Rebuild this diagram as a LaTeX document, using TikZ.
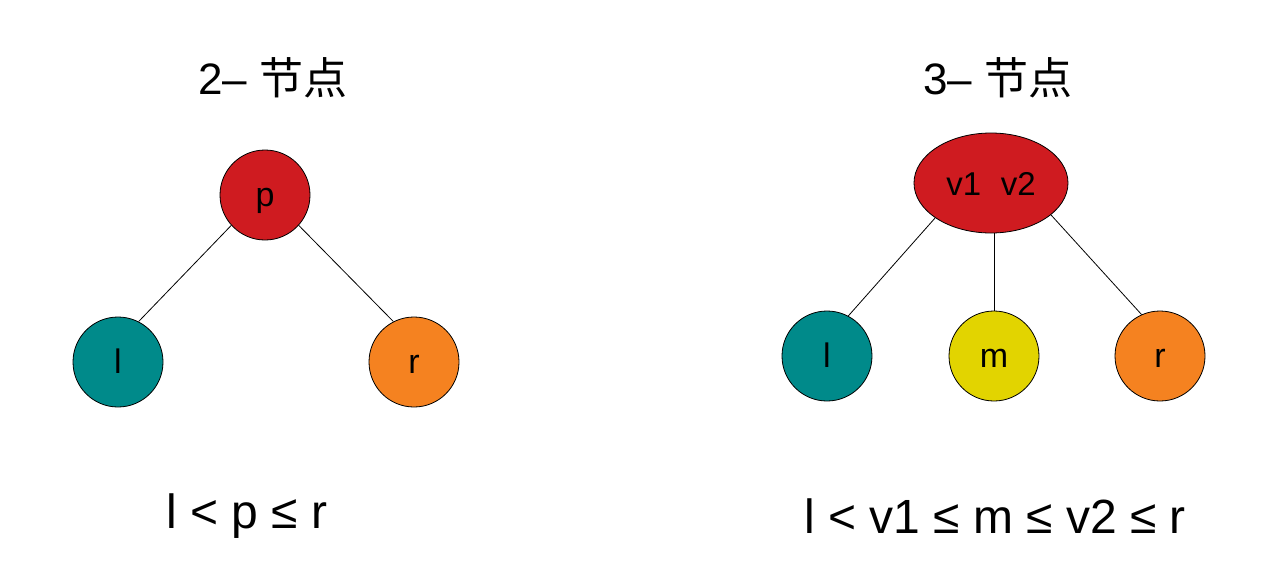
\documentclass[tikz,border=0pt]{standalone}
\usepackage{fontspec}
\setmainfont{Liberation Sans}
\newfontfamily\cjk{Noto Sans CJK SC}
\usetikzlibrary{shapes.geometric}
\definecolor{nred}{RGB}{207,27,32}
\definecolor{nteal}{RGB}{0,138,138}
\definecolor{norange}{RGB}{245,130,32}
\definecolor{nyellow}{RGB}{226,212,0}
\tikzset{
  vert/.style={circle,draw=black,line width=0.8pt,minimum size=90pt,inner sep=0pt,font=\fontsize{34}{36}\selectfont,text height=23pt,text depth=0pt},
  edge/.style={draw=black,line width=0.8pt},
  title/.style={font=\fontsize{44}{46}\selectfont,inner sep=0pt},
  rel/.style={font=\fontsize{48}{50}\selectfont,inner sep=0pt}
}
\begin{document}
\begin{tikzpicture}[x=1pt,y=-1pt]
\useasboundingbox (0,0) rectangle (1274,587);
\node[title] (t1) at (273,78) {2– {\cjk 节点}};
\node[title] (t2) at (998,78) {3– {\cjk 节点}};
\node[vert,fill=nred] (p) at (265,195) {p};
\node[vert,fill=nteal] (l1) at (118,362) {l};
\node[vert,fill=norange] (r1) at (414,362) {r};
\node[ellipse,draw=black,line width=0.8pt,fill=nred,minimum width=154pt,minimum height=100pt,inner sep=0pt,font=\fontsize{33}{35}\selectfont,text height=24pt,text depth=0pt] (v) at (991,183) {v1\hspace{0.6em}v2};
\node[vert,fill=nteal] (l2) at (827,356) {l};
\node[vert,fill=nyellow] (m) at (994,356) {m};
\node[vert,fill=norange] (r2) at (1160,356) {r};
\draw[edge] (p.222) -- (l1.63);
\draw[edge] (p.318) -- (r1.117);
\draw[edge] (v.212) -- (l2.62);
\draw[edge] (v.south -| m) -- (m);
\draw[edge] (v.332) -- (r2.114);
\node[rel] (e1) at (247,516) {l < p ≤ r};
\node[rel] (e2) at (995,516) {l < v1 ≤ m ≤ v2 ≤ r};
\end{tikzpicture}
\end{document}
